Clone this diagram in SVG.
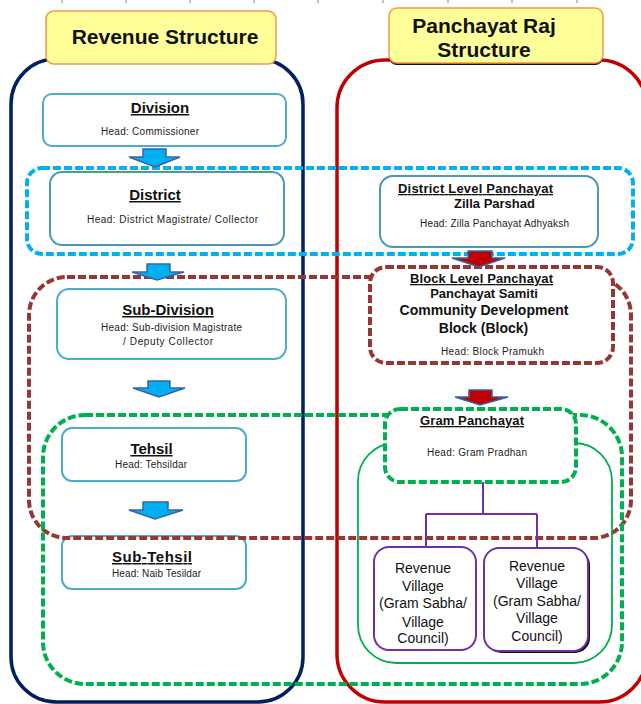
<svg xmlns="http://www.w3.org/2000/svg" width="641" height="704" viewBox="0 0 641 704">
<style>
text{font-family:"Liberation Sans",Arial,sans-serif;fill:#111}
.title{font-size:21px;font-weight:bold;text-anchor:middle}
.lbl{font-size:15px;font-weight:bold;text-anchor:middle;text-decoration:underline}
.lbl2{font-size:13px;font-weight:bold;text-anchor:middle}
.u{text-decoration:underline}
.lbl3{font-size:14px;font-weight:bold;text-anchor:middle}
.head{font-size:10px;text-anchor:middle;fill:#222}
.vil{font-size:14px;text-anchor:middle;fill:#111}
.tbox{fill:#FFFF99;stroke:#F79646;stroke-width:1.5}
.box{fill:#fff;stroke:#4BACC6;stroke-width:2}
.box2{fill:#fff;stroke:#4A9AB3;stroke-width:2}
.dash{fill:none;stroke-width:4;stroke-dasharray:8 3}
.dashw{fill:#fff;stroke-width:4;stroke-dasharray:8 3}
.arrB{fill:#00B0F0;stroke:#3465A4;stroke-width:1.5;stroke-linejoin:miter}
.arrR{fill:#C00000;stroke:#3465A4;stroke-width:1.5;stroke-linejoin:miter}
.vbox{fill:#fff;stroke:#7030A0;stroke-width:2}
</style>

<g id="ruler" stroke="#BFBFBF" stroke-width="2">
<line x1="62" y1="0" x2="62" y2="3"/><line x1="126" y1="0" x2="126" y2="3"/><line x1="190" y1="0" x2="190" y2="3"/>
<line x1="254" y1="0" x2="254" y2="3"/><line x1="318" y1="0" x2="318" y2="3"/><line x1="383" y1="0" x2="383" y2="3"/>
<line x1="448" y1="0" x2="448" y2="3"/><line x1="512" y1="0" x2="512" y2="3"/><line x1="577" y1="0" x2="577" y2="3"/>
</g>

<g id="revenue-structure">
<rect x="11" y="59" width="292" height="643" rx="45" fill="none" stroke="#002060" stroke-width="3.5"/>
<rect class="tbox" x="46" y="11" width="230" height="53" rx="8"/>
<text class="title" x="165" y="44">Revenue Structure</text>
</g>

<g id="panchayat-raj-structure">
<rect x="337" y="60" width="310" height="642" rx="48" fill="none" stroke="#C00000" stroke-width="3.5"/>
<rect x="389" y="10" width="214" height="55" rx="8" fill="#111"/>
<rect class="tbox" x="389" y="8" width="214" height="55" rx="8"/>
<text class="title" x="484" y="33">Panchayat Raj</text>
<text class="title" x="484" y="57">Structure</text>
</g>

<g id="division">
<rect class="box" x="43" y="94" width="243" height="52" rx="9"/>
<text class="lbl" x="160" y="113">Division</text>
<text class="head" x="150" y="135" textLength="98" lengthAdjust="spacing">Head: Commissioner</text>
</g>

<g id="district">
<rect class="box2" x="50" y="172" width="234" height="73" rx="12"/>
<text class="lbl" x="155" y="200">District</text>
<text class="head" x="172.5" y="223" textLength="171" lengthAdjust="spacing">Head: District Magistrate/ Collector</text>
</g>

<g id="sub-division">
<rect class="box" x="57" y="289" width="229" height="70" rx="12"/>
<text class="lbl" x="168" y="315">Sub-Division</text>
<text class="head" x="171.5" y="331" textLength="141" lengthAdjust="spacing">Head: Sub-division Magistrate</text>
<text class="head" x="168" y="345" textLength="90" lengthAdjust="spacing">/ Deputy Collector</text>
</g>

<g id="tehsil">
<rect class="box" x="62" y="428" width="184" height="53" rx="10"/>
<text class="lbl" x="151.5" y="454">Tehsil</text>
<text class="head" x="151" y="468" textLength="72" lengthAdjust="spacing">Head: Tehsildar</text>
</g>

<g id="sub-tehsil">
<rect class="box" x="62" y="536" width="184" height="53" rx="10"/>
<text class="lbl" x="152" y="562" textLength="80" lengthAdjust="spacing">Sub-Tehsil</text>
<text class="head" x="156.5" y="577" textLength="89" lengthAdjust="spacing">Head: Naib Tesildar</text>
</g>

<g id="district-level-panchayat">
<rect class="box2" x="380" y="176" width="218" height="71" rx="13"/>
<text class="lbl2 u" x="475.5" y="193" textLength="155" lengthAdjust="spacing">District Level Panchayat</text>
<text class="lbl2" x="494.5" y="208">Zilla Parshad</text>
<text class="head" x="494.5" y="227" textLength="149" lengthAdjust="spacing">Head: Zilla Panchayat Adhyaksh</text>
</g>

<g id="revenue-village-1">
<rect class="vbox" x="374" y="547" width="102" height="103" rx="15"/>
<text class="vil" x="423" y="573">Revenue</text>
<text class="vil" x="423" y="591">Village</text>
<text class="vil" x="423" y="608">(Gram Sabha/</text>
<text class="vil" x="423" y="627">Village</text>
<text class="vil" x="423" y="643">Council)</text>
</g>

<g id="revenue-village-2">
<rect x="486" y="550" width="104" height="103" rx="15" fill="#111"/>
<rect class="vbox" x="484" y="548" width="104" height="103" rx="15" stroke-width="2.5"/>
<text class="vil" x="537" y="571">Revenue</text>
<text class="vil" x="537" y="588">Village</text>
<text class="vil" x="537" y="606">(Gram Sabha/</text>
<text class="vil" x="537" y="623">Village</text>
<text class="vil" x="537" y="641">Council)</text>
</g>

<g id="district-level-band">
<rect class="dash" x="27" y="168" width="606" height="86" rx="15" stroke="#00B0F0"/>
</g>

<g id="block-level-band">
<rect class="dash" x="29" y="277" width="602" height="261" rx="38" stroke="#953735"/>
</g>

<g id="village-level-band">
<rect class="dash" x="43" y="415" width="579" height="269" rx="42" stroke="#00B050"/>
<rect x="358" y="443" width="254" height="220" rx="38" fill="none" stroke="#00B050" stroke-width="1.8"/>
</g>

<g id="block-level-panchayat">
<rect class="dashw" x="370" y="267" width="243" height="96" rx="16" stroke="#953735"/>
<text class="lbl2 u" x="481.5" y="283" textLength="143" lengthAdjust="spacing">Block Level Panchayat</text>
<text class="lbl2" x="484" y="298">Panchayat Samiti</text>
<text class="lbl3" x="484" y="315">Community Development</text>
<text class="lbl3" x="483.5" y="333">Block (Block)</text>
<text class="head" x="492.5" y="355" textLength="103" lengthAdjust="spacing">Head: Block Pramukh</text>
</g>

<g id="gram-panchayat">
<rect class="dashw" x="385" y="409" width="191" height="73" rx="15" stroke="#00B050"/>
<text class="lbl2 u" x="472" y="425" textLength="104" lengthAdjust="spacing">Gram Panchayat</text>
<text class="head" x="477" y="456" textLength="100" lengthAdjust="spacing">Head: Gram Pradhan</text>
</g>

<g id="connectors">
<polygon class="arrB" points="143,149 166,149 166,157 180,157 155,167 129,157 143,157"/>
<polygon class="arrB" points="147,264 170,264 170,272 184,272 157,280 132,272 147,272"/>
<polygon class="arrB" points="148,381 170,381 170,388 185,388 159,397 133,388 148,388"/>
<polygon class="arrB" points="143,502 168,502 168,510 183,510 155,519 129,510 143,510"/>
<polygon class="arrR" points="468,251 492,251 492,258 505,258 479,267 452,258 468,258"/>
<polygon class="arrR" points="469,390 492,390 492,397 508,397 480,405 455,397 469,397"/>
<path d="M483 482V514M426 514H537M426 514V547M537 514V548" fill="none" stroke="#7030A0" stroke-width="2"/>
</g>
</svg>
